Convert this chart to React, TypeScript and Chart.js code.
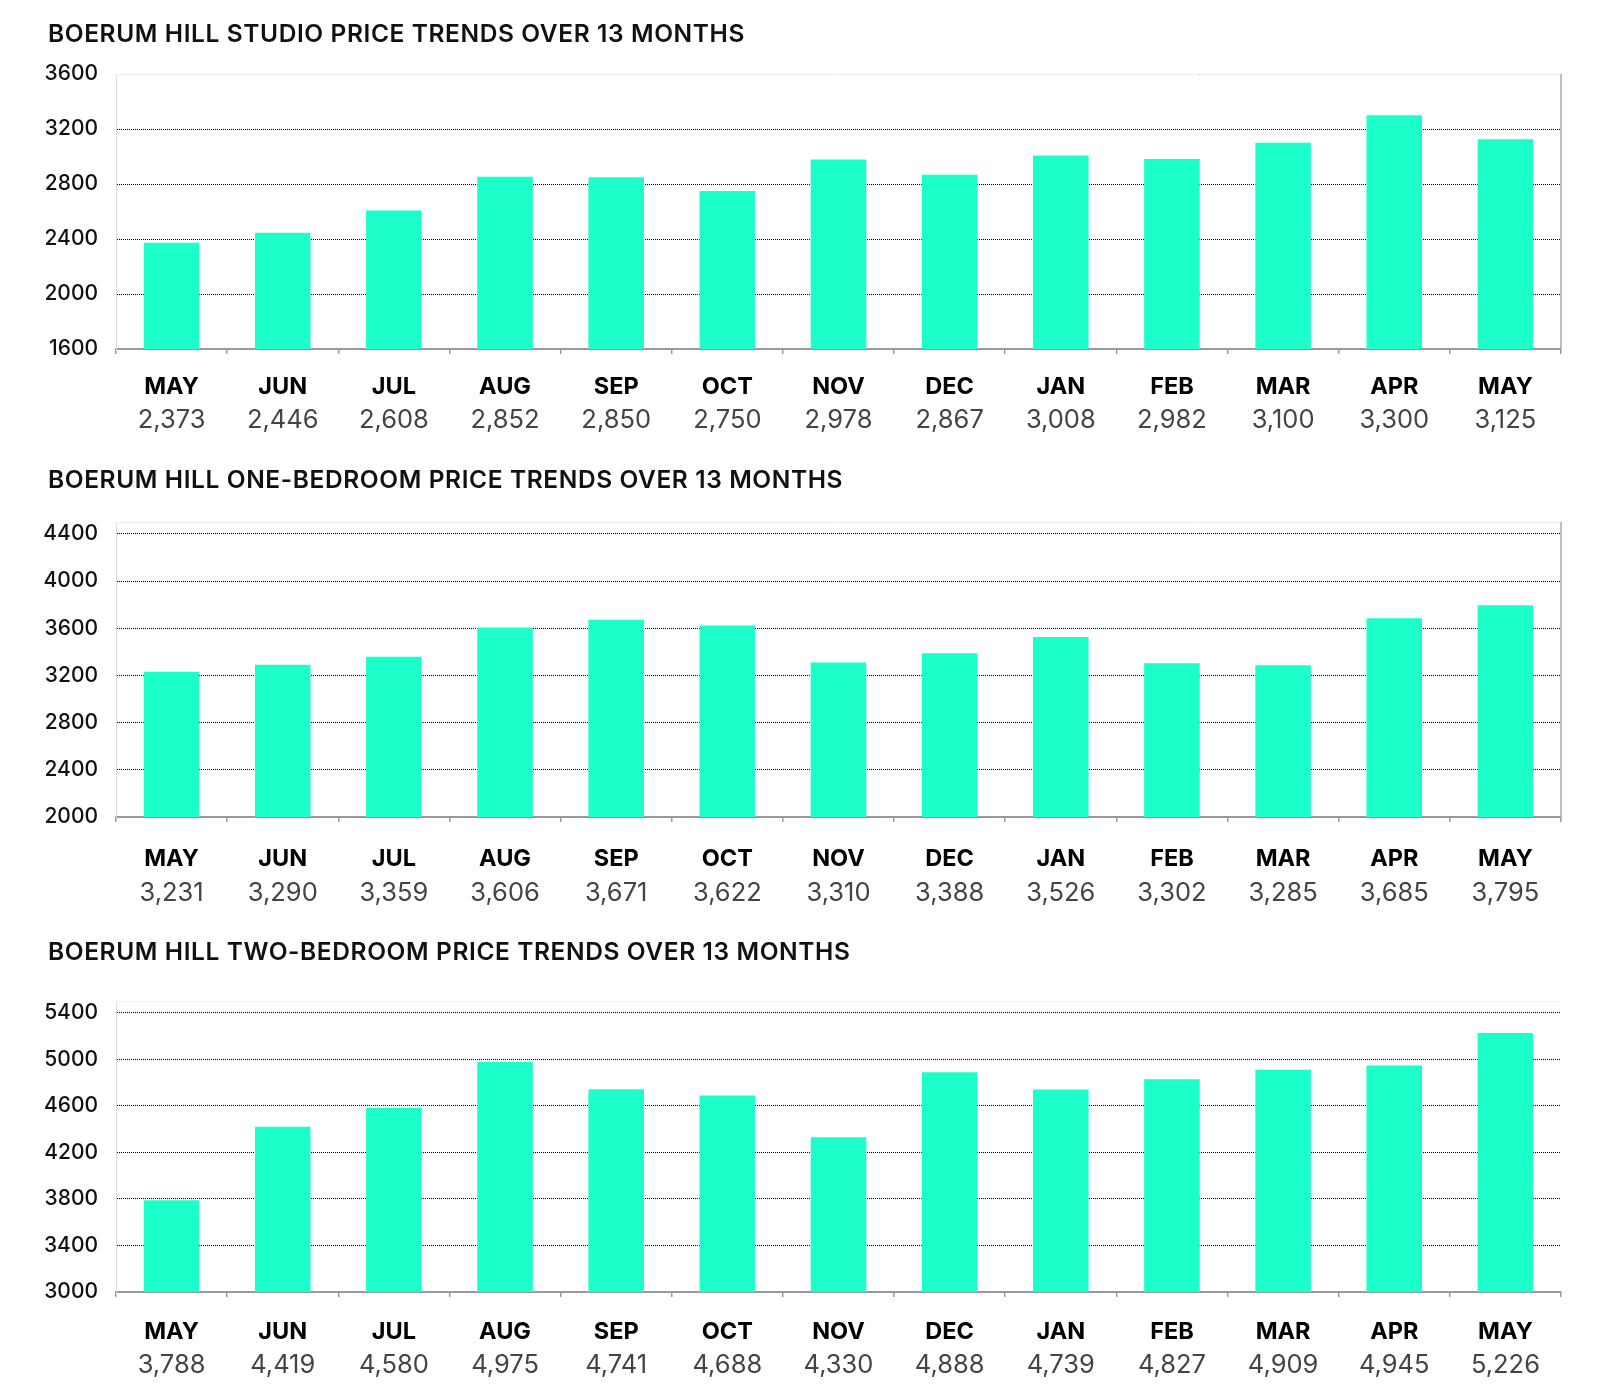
import React, { useEffect, useRef } from 'react';
import { Chart, registerables } from 'chart.js';

Chart.register(...registerables);

const months = ['MAY', 'JUN', 'JUL', 'AUG', 'SEP', 'OCT', 'NOV', 'DEC', 'JAN', 'FEB', 'MAR', 'APR', 'MAY'];
const studioValues = [2373, 2446, 2608, 2852, 2850, 2750, 2978, 2867, 3008, 2982, 3100, 3300, 3125];
const oneBedroomValues = [3231, 3290, 3359, 3606, 3671, 3622, 3310, 3388, 3526, 3302, 3285, 3685, 3795];
const twoBedroomValues = [3788, 4419, 4580, 4975, 4741, 4688, 4330, 4888, 4739, 4827, 4909, 4945, 5226];

const studioTicks = [1600, 2000, 2400, 2800, 3200, 3600];
const oneBedroomTicks = [2000, 2400, 2800, 3200, 3600, 4000, 4400];
const twoBedroomTicks = [3000, 3400, 3800, 4200, 4600, 5000, 5400];

const studioRange = [1600, 3600];
const oneBedroomRange = [2000, 4500];
const twoBedroomRange = [3000, 5500];

const studioTitle = 'BOERUM HILL STUDIO PRICE TRENDS OVER 13 MONTHS';
const oneBedroomTitle = 'BOERUM HILL ONE-BEDROOM PRICE TRENDS OVER 13 MONTHS';
const twoBedroomTitle = 'BOERUM HILL TWO-BEDROOM PRICE TRENDS OVER 13 MONTHS';

const FONT = "Inter, 'Liberation Sans', Arial, sans-serif";
const BAR_COLOR = '#1CFFCB';

const fmt = (v: number) => v.toLocaleString('en-US');

const framePlugin = {
  id: 'frame',
  beforeDatasetsDraw(chart: any, _args: any, opts: any) {
    const { ctx, chartArea } = chart;
    const { left, right, top, bottom } = chartArea;
    ctx.save();
    ctx.lineWidth = 1;
    ctx.strokeStyle = opts.topColor || '#eeeeee';
    ctx.beginPath();
    ctx.moveTo(left, Math.round(top) + 0.5);
    ctx.lineTo(right, Math.round(top) + 0.5);
    ctx.stroke();
    if (opts.right) {
      ctx.strokeStyle = opts.rightColor || '#aaaaaa';
      ctx.lineWidth = 1.5;
      ctx.beginPath();
      ctx.moveTo(right, top);
      ctx.lineTo(right, bottom);
      ctx.stroke();
    }
    ctx.restore();
  },
};

type PanelCfg = {
  title: string;
  values: number[];
  ticks: number[];
  range: number[];
  top: number;
  height: number;
  titleCenter: number;
  padTop: number;
  monthOffset: number;
  valueOffset: number;
  padBottom: number;
  rightBorder: boolean;
};

function BarPanel({ cfg }: { cfg: PanelCfg }) {
  const ref = useRef<HTMLCanvasElement>(null);
  useEffect(() => {
    const [min, max] = cfg.range;
    const chart = new Chart(ref.current as HTMLCanvasElement, {
      type: 'bar',
      data: {
        labels: months,
        datasets: [
          {
            data: cfg.values,
            backgroundColor: BAR_COLOR,
            borderWidth: 0,
            barPercentage: 0.5,
            categoryPercentage: 1.0,
            xAxisID: 'x',
            yAxisID: 'y',
          },
        ],
      },
      options: {
        animation: false,
        responsive: true,
        maintainAspectRatio: false,
        layout: { padding: { left: 0, right: 39, top: cfg.padTop, bottom: cfg.padBottom } },
        plugins: {
          legend: { display: false },
          tooltip: { enabled: false },
          title: { display: false },
          frame: { right: cfg.rightBorder, topColor: '#eeeeee', rightColor: '#aaaaaa' },
        } as any,
        scales: {
          x: {
            type: 'category',
            position: 'bottom',
            weight: 0,
            grid: {
              display: true,
              offset: true,
              drawOnChartArea: false,
              drawTicks: true,
              tickLength: 5,
              color: '#999999',
              tickColor: '#999999',
              lineWidth: 1.5,
            },
            border: { display: true, color: '#999999', width: 2 },
            ticks: {
              color: '#000000',
              font: { family: FONT, size: 23.5, weight: '700', lineHeight: 1.2 },
              padding: cfg.monthOffset - 5 - 14.1,
              maxRotation: 0,
              autoSkip: false,
            },
            afterFit: (scale: any) => {
              scale.height = 52;
            },
          },
          x2: {
            type: 'category',
            position: 'bottom',
            weight: 1,
            labels: cfg.values.map(fmt),
            grid: { display: false, drawTicks: false },
            border: { display: false },
            ticks: {
              color: '#444444',
              font: { family: FONT, size: 25.5, weight: '400', lineHeight: 1.2 },
              padding: cfg.valueOffset - 52 - 15.3,
              maxRotation: 0,
              autoSkip: false,
            },
            afterFit: (scale: any) => {
              scale.height = 36;
            },
          },
          y: {
            type: 'linear',
            min,
            max,
            grid: {
              drawTicks: false,
              lineWidth: 1,
              color: (ctx: any) => (ctx.tick && ctx.tick.value === min ? 'rgba(0,0,0,0)' : '#000000'),
            },
            border: { display: true, color: '#dddddd', width: 1, dash: [1, 1] },
            ticks: {
              color: '#111111',
              font: { family: FONT, size: 21, weight: '500' },
              padding: 18,
              callback: (v: any) => String(v),
            },
            afterBuildTicks: (scale: any) => {
              scale.ticks = cfg.ticks.map((v) => ({ value: v }));
            },
            afterFit: (scale: any) => {
              scale.width = 116;
            },
          },
        },
      } as any,
      plugins: [framePlugin],
    });
    return () => chart.destroy();
  }, [cfg]);
  return (
    <>
      <div
        style={{
          position: 'absolute',
          left: 48,
          top: cfg.titleCenter - 14,
          height: 28,
          lineHeight: '28px',
          fontFamily: FONT,
          fontSize: 24.5,
          fontWeight: 600,
          letterSpacing: '0.6px',
          color: '#111111',
          whiteSpace: 'nowrap',
          zIndex: 2,
        }}
      >
        {cfg.title}
      </div>
      <div style={{ position: 'absolute', left: 0, top: cfg.top, width: 1600, height: cfg.height }}>
        <canvas ref={ref} />
      </div>
    </>
  );
}

const panels: PanelCfg[] = [
  {
    title: studioTitle,
    values: studioValues,
    ticks: studioTicks,
    range: studioRange,
    top: 0,
    height: 445,
    titleCenter: 33,
    padTop: 74,
    monthOffset: 37.5,
    valueOffset: 71,
    padBottom: 8,
    rightBorder: true,
  },
  {
    title: oneBedroomTitle,
    values: oneBedroomValues,
    ticks: oneBedroomTicks,
    range: oneBedroomRange,
    top: 445,
    height: 465,
    titleCenter: 479,
    padTop: 77,
    monthOffset: 41.5,
    valueOffset: 76,
    padBottom: 5,
    rightBorder: true,
  },
  {
    title: twoBedroomTitle,
    values: twoBedroomValues,
    ticks: twoBedroomTicks,
    range: twoBedroomRange,
    top: 910,
    height: 485,
    titleCenter: 951,
    padTop: 91,
    monthOffset: 39.5,
    valueOffset: 73,
    padBottom: 15,
    rightBorder: false,
  },
];

export default function App() {
  return (
    <div style={{ position: 'absolute', left: 0, top: 0, width: 1600, height: 1395, background: '#ffffff' }}>
      {panels.map((p, i) => (
        <BarPanel key={i} cfg={p} />
      ))}
    </div>
  );
}
